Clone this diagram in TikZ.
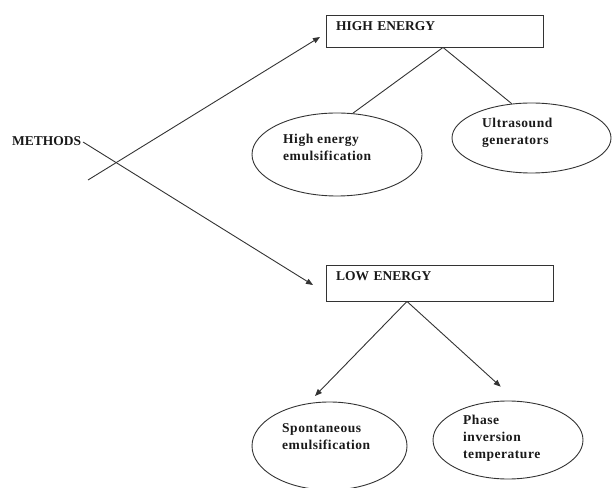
\documentclass[tikz,border=0pt]{standalone}
\usepackage{fontspec}
\setmainfont{Liberation Serif}
\newfontfamily\spacedserif[LetterSpace=4]{Liberation Serif}
\usetikzlibrary{arrows.meta,shapes.geometric,calc}
\begin{document}
\begin{tikzpicture}[x=1pt,y=1pt,
  ln/.style={draw=black!80, line width=0.9pt},
  arr/.style={ln, -{Triangle[length=7pt,width=5.5pt]}},
  lbl/.style={font=\fontsize{13.5}{17}\selectfont\bfseries, align=left, inner sep=0pt, anchor=west, text=black!90},
  elbl/.style={lbl, font=\spacedserif\fontsize{13.5}{17}\selectfont\bfseries},
  boxs/.style={draw=black!80, line width=0.9pt, rectangle, inner xsep=10pt, inner ysep=5pt, text height=11pt, align=left, font=\fontsize{13.5}{17}\selectfont\bfseries, text=black!90},
  ell/.style={draw=black!80, line width=0.9pt, ellipse, inner sep=0pt}]
\useasboundingbox (0,0) rectangle (612,487);

% boxes
\node[boxs, text width=197pt, text depth=11pt] (hi) at (434.5,456) {HIGH ENERGY};
\node[boxs, text width=207pt, text depth=15pt] (lo) at (439.5,204) {LOW ENERGY};

% method label
\node[lbl] (methods) at (12,346) {METHODS};

% ellipses
\node[ell, minimum width=170pt, minimum height=83pt] (he) at (337,332.5) {};
\node[ell, minimum width=159pt, minimum height=70pt] (us) at (531.5,349) {};
\node[ell, minimum width=155pt, minimum height=88pt] (sp) at (329.5,41) {};
\node[ell, minimum width=150pt, minimum height=78pt] (ph) at (508,47) {};

% ellipse texts
\node[elbl] (heT) at (283,340) {High energy\\emulsification};
\node[elbl] (usT) at (482,354) {Ultrasound\\generators};
\node[elbl] (spT) at (282,50) {Spontaneous\\emulsification};
\node[elbl] (phT) at (463,48.5) {Phase\\inversion\\temperature};

% coordinates
\coordinate (hiJ) at ($(hi.south)+(8.5,0)$);
\coordinate (loJ) at ($(lo.south)+(-32.5,0)$);
\coordinate (loIn) at (313,202);
\coordinate (upStart) at (88,307);
\coordinate (hiIn) at (320,450);
\coordinate (spIn) at (315,91);
\coordinate (phIn) at (500.7,100.3);

% connectors
\draw[ln] (hiJ) -- (he.69);
\draw[ln] (hiJ) -- (us.120);
\draw[arr] (loJ) -- (spIn);
\draw[arr] (loJ) -- (phIn);
\draw[arr, shorten <=2pt] (methods.east) -- (loIn);
\draw[arr] (upStart) -- (hiIn);
\end{tikzpicture}
\end{document}
